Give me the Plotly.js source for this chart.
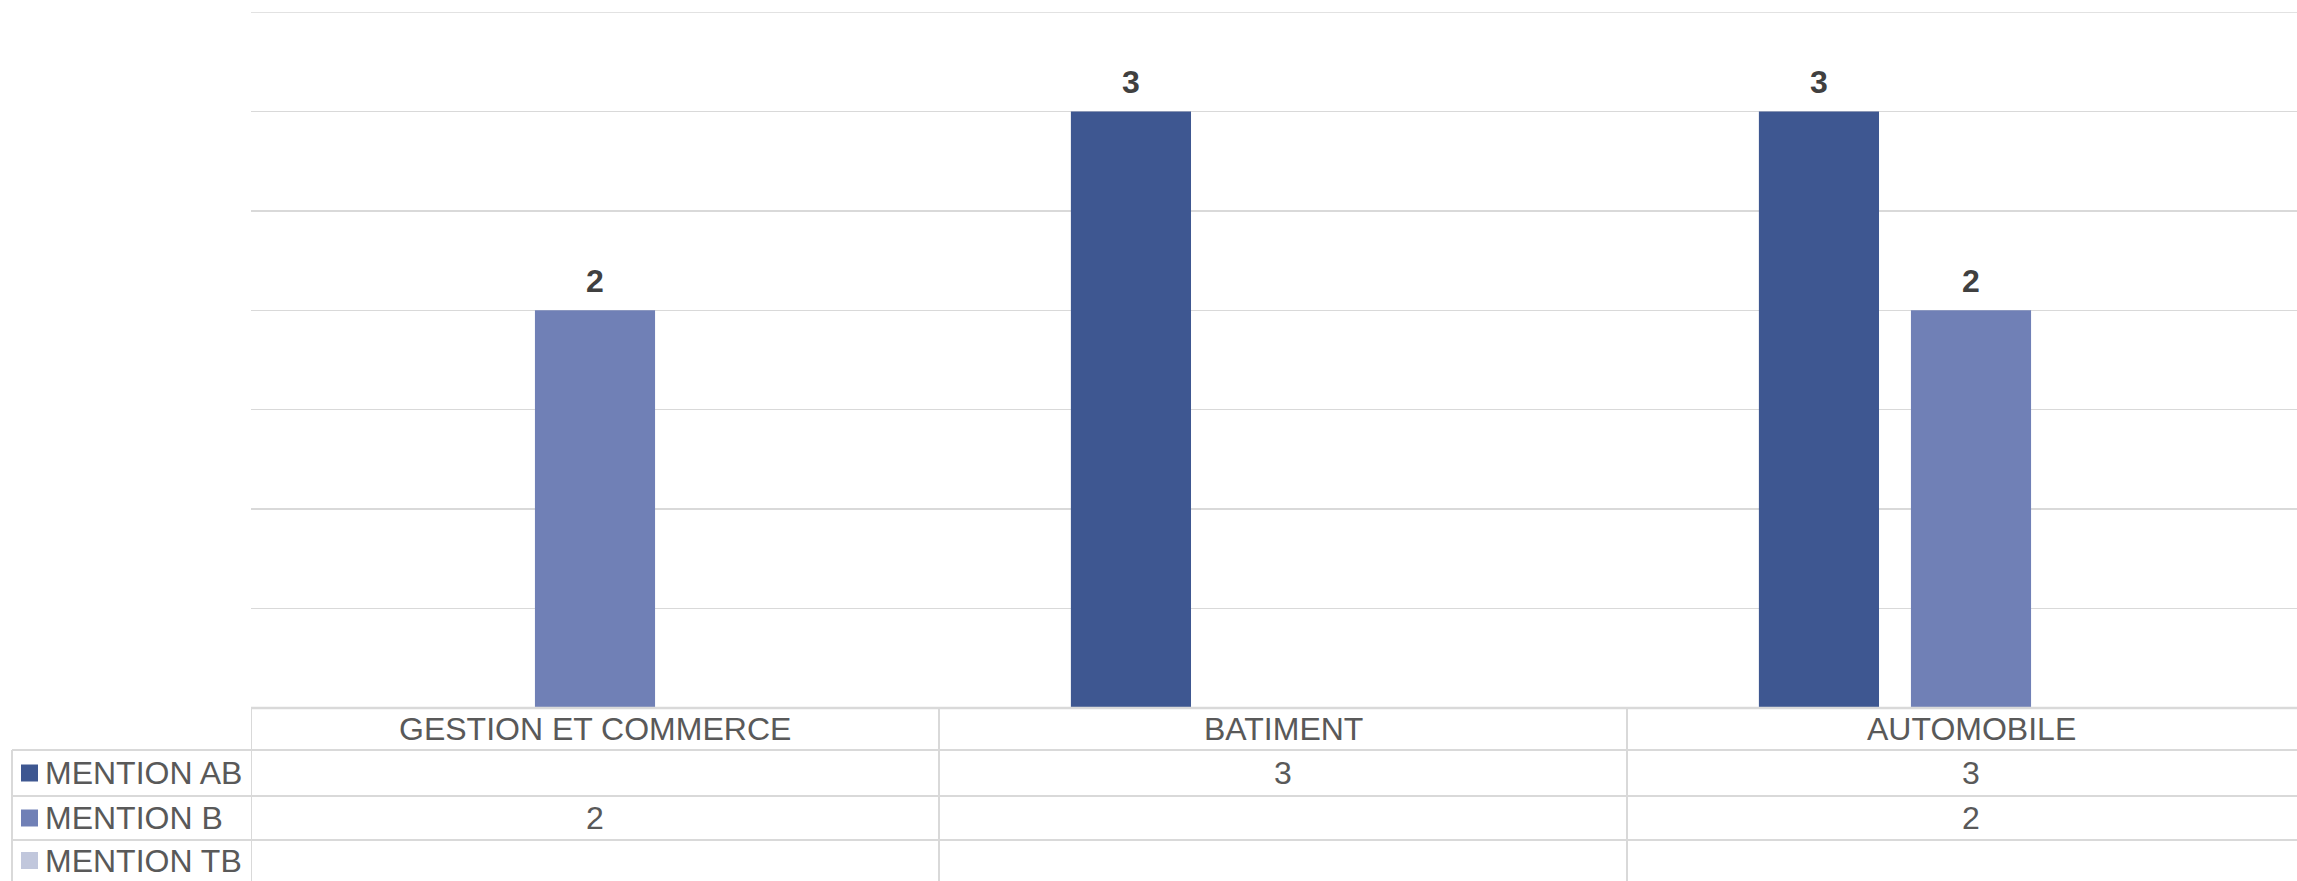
<!DOCTYPE html>
<html>
<head>
<meta charset="utf-8">
<script src="https://cdn.plot.ly/plotly-3.0.1.min.js"></script>
<style>html,body{margin:0;padding:0;background:#fff;overflow:hidden;}</style>
</head>
<body>
<div id="chart" style="width:2297px;height:881px;"></div>
<script>
const categories = ['GESTION ET COMMERCE', 'BATIMENT', 'AUTOMOBILE'];
const seriesNames = ['MENTION AB', 'MENTION B', 'MENTION TB'];
const mentionAB = [null, 3, 3];
const mentionB = [2, null, 2];
const mentionTB = [null, null, null];
const seriesValues = [mentionAB, mentionB, mentionTB];
const seriesColors = ['#3E5791', '#7080B6', '#C1C7DC'];

const W = 2297, H = 881;
const plotL = 251, plotT = 12, plotB = 708;
const plotH = plotB - plotT;
const plotW = W - plotL;
const catW = 688;              // pixel width of one category
const BARGAP = 0.337, BARGROUPGAP = 0.21;
const YMAX = 3.5;
const FONT = 'Liberation Sans, Arial, sans-serif';
const GRID = '#d9d9d9';
const TXT = '#595959';

function py(p) { return (plotB - p) / plotH; }   // pixel y -> paper y
function px(p) { return (p - plotL) / plotW; }   // pixel x -> paper x

const traces = seriesNames.map((name, i) => ({
  type: 'bar',
  name: name,
  x: categories,
  y: seriesValues[i],
  marker: {color: seriesColors[i]},
  showlegend: false,
  hoverinfo: 'x+y+name'
}));

const rowEdges = [708, 750, 796, 840, 881];
const shapes = [];
const annotations = [];

// top gridline at the range end
shapes.push({type: 'line', xref: 'paper', yref: 'y', x0: 0, x1: 1, y0: YMAX, y1: YMAX, line: {color: GRID, width: 1.5}});

// table horizontal lines
shapes.push({type: 'line', xref: 'paper', yref: 'paper', x0: 0, x1: 1, y0: py(708), y1: py(708), line: {color: GRID, width: 2.5}});
[750, 796, 840].forEach(r => {
  shapes.push({type: 'line', xref: 'paper', yref: 'paper', x0: px(12), x1: 1, y0: py(r), y1: py(r), line: {color: GRID, width: 2}});
});
// vertical lines at category boundaries
[-0.5, 0.5, 1.5].forEach(b => {
  shapes.push({type: 'line', xref: 'x', yref: 'paper', x0: b, x1: b, y0: py(708), y1: py(H + 5), line: {color: GRID, width: 2}});
});
// legend column left edge
shapes.push({type: 'line', xref: 'paper', yref: 'paper', x0: px(12), x1: px(12), y0: py(750), y1: py(H + 5), line: {color: GRID, width: 2}});

// bar data labels
const slotW = catW * (1 - BARGAP) / seriesNames.length;
seriesValues.forEach((vals, i) => {
  vals.forEach((v, j) => {
    if (v === null) return;
    annotations.push({xref: 'x', yref: 'y', x: categories[j], y: v, text: '<b>' + v + '</b>', showarrow: false,
      xanchor: 'center', yanchor: 'middle', xshift: (i - (seriesNames.length - 1) / 2) * slotW, yshift: 29.5,
      font: {family: FONT, size: 32, color: '#404040'}});
  });
});

// category labels in header row
categories.forEach(c => {
  annotations.push({xref: 'x', yref: 'paper', x: c, y: py((rowEdges[0] + rowEdges[1]) / 2), text: c, showarrow: false,
    xanchor: 'center', yanchor: 'middle', font: {family: FONT, size: 32, color: TXT}});
});

// series rows: legend key + values
seriesNames.forEach((name, i) => {
  const cy = (rowEdges[i + 1] + rowEdges[i + 2]) / 2;
  shapes.push({type: 'rect', xref: 'paper', yref: 'paper', x0: px(21), x1: px(38), y0: py(cy - 8.5), y1: py(cy + 8.5),
    fillcolor: seriesColors[i], line: {width: 0}});
  annotations.push({xref: 'paper', yref: 'paper', x: px(43), y: py(cy), text: name, showarrow: false,
    xanchor: 'left', yanchor: 'middle', font: {family: FONT, size: 32, color: TXT}});
  seriesValues[i].forEach((v, j) => {
    if (v === null) return;
    annotations.push({xref: 'x', yref: 'paper', x: categories[j], y: py(cy), text: String(v), showarrow: false,
      xanchor: 'center', yanchor: 'middle', font: {family: FONT, size: 32, color: TXT}});
  });
});

const layout = {
  width: W, height: H,
  margin: {l: plotL, r: 0, t: plotT, b: H - plotB, pad: 0},
  paper_bgcolor: '#fff', plot_bgcolor: '#fff',
  font: {family: FONT, color: TXT},
  barmode: 'group',
  bargap: BARGAP,
  bargroupgap: BARGROUPGAP,
  xaxis: {type: 'category', categoryorder: 'array', categoryarray: categories,
    range: [-0.5, -0.5 + plotW / catW], showticklabels: false, showgrid: false, zeroline: false, showline: false, ticks: ''},
  yaxis: {range: [0, YMAX], dtick: 0.5, showgrid: true, gridcolor: GRID, gridwidth: 1.5,
    showticklabels: false, zeroline: false, showline: false, ticks: ''},
  shapes: shapes,
  annotations: annotations,
  showlegend: false
};

Plotly.newPlot('chart', traces, layout, {displayModeBar: false, staticPlot: true});
</script>
</body>
</html>
